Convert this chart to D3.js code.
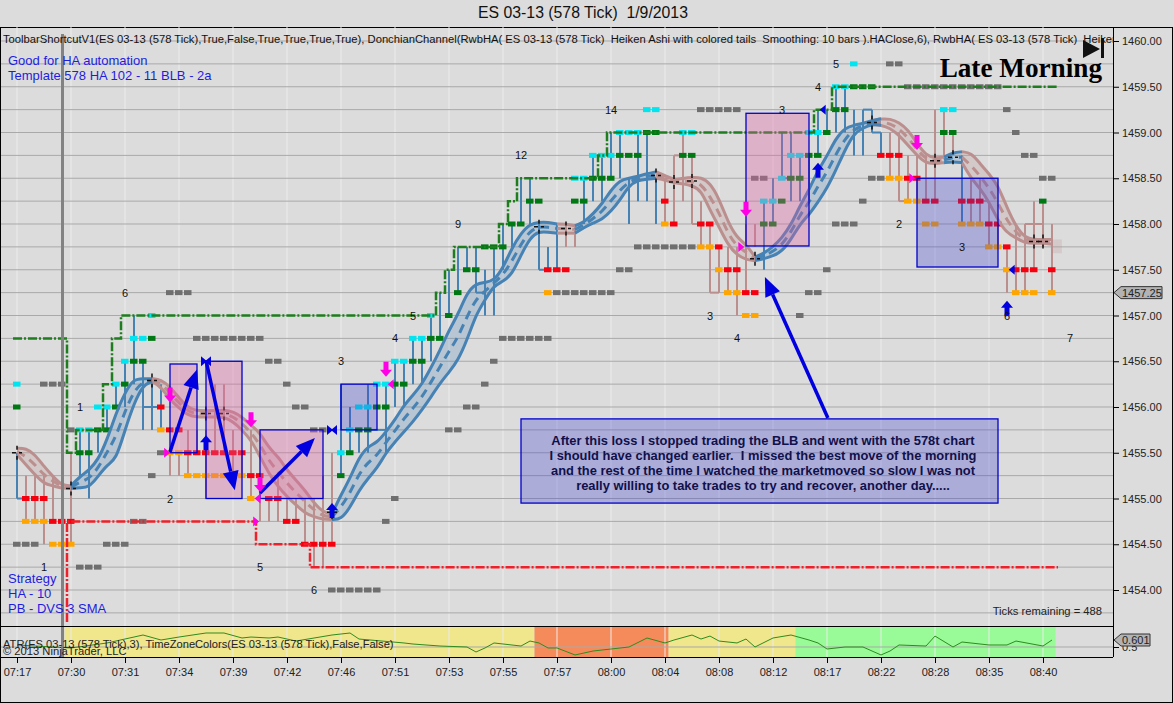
<!DOCTYPE html>
<html>
<head>
<meta charset="utf-8">
<title>ES 03-13 (578 Tick)</title>
<script src="https://cdn.jsdelivr.net/npm/d3@7"></script>
<style>
  html, body { margin: 0; padding: 0; background: #dcdcdc; overflow: hidden; }
  svg { display: block; }
  text { font-family: "Liberation Sans", Arial, sans-serif; }
  .axis path { display: none; }
  .axis line { stroke: #000; }
  .axis text { font-size: 11px; fill: #222; font-family: "Liberation Sans", Arial, sans-serif; }
</style>
</head>
<body>
<svg id="chart" width="1174" height="703"></svg>
<script>
var timeLabels = ["07:17","07:30","07:31","07:34","07:39","07:42","07:46","07:51","07:53","07:55","07:57","08:00","08:04","08:08","08:12","08:17","08:22","08:28","08:35","08:40"];
var priceLabels = [1460,1459.5,1459,1458.5,1458,1457.5,1457,1456.5,1456,1455.5,1455,1454.5,1454];

// bar ranges, one per bar
var barHigh = [1455.5,1455.25,1455.25,1455.25,1455.25,1455.25,1455.5,1455.75,1455.75,1455.75,
  1456,1456.25,1456.5,1457,1456.5,1456.25,1456.25,1455.5,1455.5,1455.75,
  1455.75,1455.75,1456.25,1456.25,1455.75,1455.5,1455.75,1455,1455,1455.25,
  1455,1455,1455,1455,1455.25,1455.5,1456.25,1456,1455.75,1456.25,
  1456,1456.25,1456.5,1456.5,1456.75,1456.75,1457,1457.25,1457.5,1457.75,
  1457.75,1457.75,1457.5,1457.75,1458,1458,1458.5,1458.5,1458,1457.75,
  1458,1458,1458,1458.5,1458.75,1458.75,1459,1459,1458.5,1459,
  1459,1458.5,1458.5,1458.75,1459,1458.75,1458.25,1458,1457.75,1457.75,
  1457.75,1458,1458,1458.25,1458.5,1459,1459,1458.75,1458.75,1459.25,
  1459.25,1459.5,1459.5,1459.25,1459.25,1459.25,1459,1459,1459,1458.75,
  1458.75,1458.75,1459.25,1459.25,1459,1458.75,1458.5,1458.5,1458.25,1458,
  1457.75,1458,1458,1458.25,1458.25,1458];
var barLow = [1455,1454.75,1454.75,1454.5,1454.75,1454.5,1454.5,1455.25,1455,1455.5,
  1455.75,1456,1456,1456.25,1455.75,1455.75,1455.75,1455.25,1455.25,1455.25,
  1455.5,1455,1455.5,1455.5,1455.25,1455.25,1455,1454.75,1454.75,1454.75,
  1454.75,1454.75,1454.5,1454.25,1454.25,1454.5,1455.25,1455.5,1455.5,1455.5,
  1456,1455.5,1456,1456,1456.25,1456.25,1456.5,1456.75,1457,1457.25,
  1457.5,1457.25,1457,1457,1457.5,1457.75,1458,1458,1457.5,1457.5,
  1457.5,1457.75,1457.75,1458,1458.25,1458.25,1458.5,1458.5,1458,1458.25,
  1458.25,1458,1458,1458,1458.25,1458,1457.75,1457.25,1457.25,1457.25,
  1457,1457.25,1457.75,1457.5,1458,1458.5,1458.25,1458.25,1458.25,1458.75,
  1459,1459,1459,1458.75,1458.75,1459,1458.75,1458.5,1458.25,1458.25,
  1458.25,1458.25,1458.25,1458.75,1458.75,1458,1458,1458,1457.75,1457.75,
  1457.25,1457.25,1457.25,1457.5,1457.75,1457.25];
var upBarRuns = [[0,0],[7,16],[36,60],[63,71],[83,96],[105,105]];
// small horizontal steps off a bar: from bar, price, to bar
var barFeet = [[0,1455,1],[14,1456,16],[58,1457.5,59],[77,1457.25,78],[75,1458,76],[73,1458.75,74],[72,1458.5,73],
  [98,1458.25,99],[94,1459.25,95],[95,1459,96],[112,1458,114],[107,1458.25,108],[39,1455.75,41],[85,1458.5,86],[51,1457.25,52]];

// moving average band, one value per bar
var bandHi = [1455.55,1455.55,1455.48,1455.35,1455.24,1455.14,1455.14,1455.24,1455.31,1455.42,
  1455.64,1455.93,1456.16,1456.31,1456.31,1456.31,1456.30,1456.22,1456.10,1455.99,
  1455.96,1455.96,1455.96,1455.97,1455.95,1455.89,1455.80,1455.72,1455.55,1455.46,
  1455.31,1455.20,1455.09,1454.95,1454.85,1454.83,1455.04,1455.22,1455.45,1455.57,
  1455.61,1455.73,1455.86,1456.02,1456.13,1456.25,1456.43,1456.62,1456.84,1457.01,
  1457.25,1457.35,1457.36,1457.38,1457.52,1457.74,1457.90,1458.00,1458.02,1458.02,
  1458.00,1458.00,1457.98,1458.02,1458.11,1458.22,1458.37,1458.48,1458.50,1458.52,
  1458.55,1458.57,1458.53,1458.48,1458.50,1458.51,1458.51,1458.45,1458.28,1458.02,
  1457.85,1457.78,1457.64,1457.68,1457.75,1457.85,1457.99,1458.20,1458.37,1458.59,
  1458.74,1458.94,1459.05,1459.08,1459.10,1459.13,1459.15,1459.15,1459.11,1459.03,
  1458.88,1458.75,1458.72,1458.73,1458.78,1458.79,1458.78,1458.66,1458.55,1458.42,
  1458.18,1457.97,1457.85,1457.83,1457.83,1457.83];
var bandLo = [1455.48,1455.37,1455.26,1455.16,1455.14,1455.11,1455.11,1455.12,1455.12,1455.24,
  1455.37,1455.42,1455.75,1456.04,1456.24,1456.28,1456.22,1456.08,1455.99,1455.91,
  1455.89,1455.89,1455.89,1455.89,1455.84,1455.75,1455.64,1455.46,1455.27,1455.13,
  1455.02,1454.93,1454.84,1454.80,1454.77,1454.77,1454.77,1454.90,1455.09,1455.22,
  1455.33,1455.50,1455.62,1455.73,1455.84,1455.97,1456.11,1456.26,1456.38,1456.51,
  1456.73,1457.01,1457.17,1457.33,1457.37,1457.45,1457.66,1457.85,1457.92,1457.91,
  1457.90,1457.90,1457.90,1457.96,1458.01,1458.05,1458.14,1458.26,1458.42,1458.48,
  1458.49,1458.50,1458.48,1458.45,1458.44,1458.42,1458.37,1458.15,1457.97,1457.77,
  1457.66,1457.61,1457.60,1457.62,1457.65,1457.70,1457.83,1458.00,1458.10,1458.24,
  1458.39,1458.59,1458.81,1458.99,1459.05,1459.09,1459.08,1459.05,1458.97,1458.86,
  1458.75,1458.66,1458.66,1458.67,1458.68,1458.67,1458.50,1458.39,1458.24,1458.04,
  1457.90,1457.85,1457.79,1457.79,1457.79,1457.78];
var bandUpRuns = [[6,15],[35,60],[62,71],[82,96],[103,105]];
var bandDownRuns = [[0,6],[15,35],[60,62],[71,82],[95,103],[105,115]];
// faint unfinished piece after the last bar: from bar, to bar, high, low
var bandTail = [115,116.1,1457.83,1457.68];

// marker runs: first bar, price, how many bars
var cyanMarks = [[0,1456.25,1],[7,1455.75,2],[9,1456,2],[11,1456.25,1],[12,1456.5,1],[13,1456.75,2],[15,1457,1],
  [36,1455.5,1],[37,1455.75,1],[38,1456,2],[40,1456.25,2],[42,1456.5,2],[44,1456.75,2],[46,1457,1],
  [62,1458.5,2],[64,1458.75,3],[67,1459,3],[70,1459.25,2],[74,1459,2],[83,1458.25,2],[85,1458.5,1],
  [86,1458.75,2],[88,1459,2],[91,1459.5,2],[93,1459.75,1],[103,1459.25,2]];
var greenMarks = [[0,1456,1],[7,1455.5,2],[9,1455.75,2],[11,1456,1],[12,1456.25,1],[13,1456.5,2],[15,1456.75,1],
  [36,1455.25,1],[37,1455.5,1],[38,1455.75,2],[40,1456,2],[42,1456.25,2],[44,1456.5,2],[46,1456.75,2],
  [48,1457,1],[49,1457.25,1],[50,1457.5,2],[52,1457.75,3],[55,1458,2],[57,1458.25,2],[62,1458.25,2],
  [64,1458.5,3],[67,1458.75,3],[70,1459,2],[74,1458.75,2],[83,1458,2],[85,1458.25,1],[86,1458.5,2],
  [88,1458.75,2],[90,1459,1],[91,1459.25,2],[93,1459.5,3],[103,1459,2],[114,1458.25,1]];
var redMarks = [[1,1455,3],[4,1454.75,3],[16,1456,1],[17,1455.75,2],[19,1455.5,7],[26,1455.25,2],[28,1455,2],
  [30,1454.75,2],[32,1454.5,4],[59,1457.5,3],[72,1458.25,1],[73,1458,1],[76,1458,2],[78,1457.75,1],
  [79,1457.5,2],[81,1457.25,2],[96,1458.75,3],[99,1458.5,2],[101,1458.25,2],[105,1458.25,3],[108,1458,2],
  [110,1457.75,1],[111,1457.5,3],[115,1457.5,1]];
var orangeMarks = [[1,1454.75,3],[4,1454.5,3],[16,1455.75,1],[17,1455.5,2],[19,1455.25,7],[26,1455,1],[59,1457.25,1],
  [72,1458,1],[76,1457.75,2],[78,1457.5,1],[79,1457.25,2],[81,1457,2],[97,1458.5,2],[99,1458.25,2],[101,1458,2],
  [105,1458,3],[108,1457.75,2],[110,1457.5,1],[111,1457.25,3],[115,1457.25,1]];
var grayMarks = [[0,1454.5,3],[3,1456.25,3],[6,1455.75,1],[7,1454.25,3],[10,1454.5,3],[13,1454.75,2],[15,1455.25,1],
  [16,1455.5,1],[17,1457.25,3],[20,1456.75,8],[28,1456.5,2],[30,1456.25,1],[31,1456,2],[33,1455.75,2],[35,1454,6],
  [41,1454.75,1],[42,1455,1],[48,1455.75,2],[50,1456,2],[52,1456.25,1],[53,1456.5,1],[54,1456.75,6],[60,1457.25,7],
  [67,1457.5,2],[69,1457.75,7],[76,1459.25,5],[82,1458.5,2],[87,1457,1],[88,1457.25,2],[90,1457.5,1],[91,1458,3],
  [94,1458.25,1],[95,1458.5,2],[97,1459.75,2],[99,1459.5,11],[110,1459.25,1],[111,1459,1],[112,1458.75,2],[114,1458.5,2]];

// Donchian channel: bar the level starts at, level
var upperChannel = [[0,1456.75],[6,1455.5],[7,1455.75],[10,1456.25],[11,1456.75],[12,1457],[47,1457.25],[48,1457.5],
  [49,1457.75],[54,1458],[55,1458.25],[56,1458.5],[65,1458.75],[66,1459],[89,1459.25],[91,1459.5]];
var lowerChannel = [[6,1453.65],[6,1454.75],[27,1454.5],[33,1454.25]];

// hand drawn boxes: first bar, last bar, top, bottom
var pinkBoxes = [[17,20,1456.47,1455.5],[21,25,1456.5,1455],[27,34,1455.75,1455],[81,88,1459.21,1457.76]];
var blueBoxes = [[36,40,1456.25,1455.75],[100,109,1458.5,1457.53]];
var noteBox = [56,109,1455.87,1454.95];
var noteLines = ["After this loss I stopped trading the BLB and went with the 578t chart",
  "I should have changed earlier.  I missed the best move of the morning",
  "and the rest of the time I watched the marketmoved so slow I was not",
  "really willing to take trades to try and recover, another day....."];
// hand drawn arrows: from bar, from price, to bar, to price
var bigArrows = [[17,1455.51,20,1456.41],[21,1456.51,24.2,1455.09],[27,1455.06,33.1,1455.66],[90.1,1455.88,83.1,1457.42]];

// signal marks
var downSignals = [[17,1456.05],[26,1455.78],[27,1455.07],[41,1456.33],[81,1458.08],[100,1458.81]];
var upSignals = [[21,1455.69],[35,1454.95],[89,1458.67],[110,1457.16]];
var pinkRight = [[16.9,1455.5],[26.8,1454.75],[80.7,1457.75],[99.7,1458.5]];
var pinkLeft = [[26.5,1455],[41.3,1456.25]];
var blueBowties = [[21,1456.5],[35,1455.75]];
var blueLeft = [[89.3,1459.25],[110.3,1457.5]];
var pivots = [[0,1455.5],[6,1455.11],[15,1456.29],[21,1455.93],[23,1455.93],[35,1454.85],[58,1457.97],[61,1457.95],
  [71,1458.53],[73,1458.46],[75,1458.47],[82,1457.62],[95,1459.11],[102,1458.69],[104,1458.73],[113,1457.81],[114,1457.81]];

// swing counters: bar, price, label
var counters = [[12,1457.25,"6"],[7,1456,"1"],[17,1455,"2"],[3,1454.25,"1"],[27,1454.25,"5"],[33,1454,"6"],[36,1456.5,"3"],
  [42,1456.75,"4"],[44,1457,"5"],[49,1458,"9"],[56,1458.75,"12"],[66,1459.25,"14"],[85,1459.25,"3"],[89,1459.5,"4"],
  [91,1459.75,"5"],[98,1458,"2"],[105,1457.75,"3"],[77,1457,"3"],[80,1456.75,"4"],[110,1457,"6"],[117,1456.75,"7"]];

// ATR pane
var atrBars = [0,6,10,13,14,16,18,21,23,25,26,28,29,31,35,37,38,43,44,47,50,51,52,53,56,57,58,59,60,62,64,68,70,72,73,75,76,77,78,80,81,82,84,86,88,89,90,92,94,96,97,98,101,102,104,105,108,110,111,114,115];
var atrValues = [0.529,0.486,0.558,0.644,0.673,0.601,0.644,0.702,0.702,0.630,0.644,0.630,0.644,0.586,0.673,0.702,0.615,0.558,0.543,0.514,0.5,0.428,0.486,0.558,0.514,0.586,0.558,0.486,0.486,0.385,0.442,0.5,0.63,0.558,0.601,0.673,0.615,0.658,0.586,0.558,0.615,0.5,0.63,0.673,0.601,0.558,0.471,0.5,0.5,0.385,0.442,0.529,0.514,0.658,0.5,0.572,0.529,0.529,0.586,0.514,0.601];
var zoneEdges = [5.3,57.5,72.4,86.5,115.4];
var zoneColors = ["#f0e68c","#f58b5a","#f0e68c","#98fb98"];

var lastPrice = 1457.25;
var lastAtr = 0.601;

var width = 1174, height = 703;
var paneLeft = 1, paneRight = 1113, paneTop = 27, priceBottom = 626, atrBottom = 657;

var xScale = d3.scaleLinear().domain([0, 114]).range([17, 1043]);
var yScale = d3.scaleLinear().domain([1454, 1460]).range([590, 41]);
var atrScale = d3.scaleLinear().domain([0.5, 0.601]).range([647, 640]);

var svg = d3.select("#chart");

svg.append("defs").append("clipPath").attr("id", "paneClip")
  .append("rect").attr("x", paneLeft).attr("y", paneTop).attr("width", paneRight - paneLeft).attr("height", atrBottom - paneTop);

//frame
svg.append("rect").attr("x", 0.5).attr("y", 27.5).attr("width", 1172).attr("height", 675)
  .attr("fill", "#dcdcdc").attr("stroke", "#000");

svg.append("text").attr("x", 583).attr("y", 18).attr("text-anchor", "middle")
  .attr("font-size", "15.8px").attr("fill", "#111").text("ES 03-13 (578 Tick)  1/9/2013").style("white-space", "pre");

//ATR zones
svg.selectAll(".zone").data(zoneColors).enter().append("rect")
  .attr("class", "zone")
  .attr("x", function(d, i) { return xScale(zoneEdges[i]); })
  .attr("width", function(d, i) { return xScale(zoneEdges[i + 1]) - xScale(zoneEdges[i]); })
  .attr("y", priceBottom).attr("height", atrBottom - priceBottom)
  .attr("fill", function(d) { return d; });

//time gridlines
var tickBars = timeLabels.map(function(d, i) { return i * 6; });
svg.selectAll(".vgrid").data(tickBars).enter().append("line")
  .attr("class", "vgrid")
  .attr("x1", xScale).attr("x2", xScale)
  .attr("y1", paneTop).attr("y2", atrBottom)
  .attr("stroke", "#ececec").attr("stroke-width", 1);

//price gridlines
svg.selectAll(".hgrid").data(d3.range(1453.75, 1460.01, 0.25)).enter().append("line")
  .attr("class", "hgrid")
  .attr("x1", paneLeft).attr("x2", paneRight)
  .attr("y1", yScale).attr("y2", yScale)
  .attr("stroke", "#a9a9a9").attr("stroke-width", 1);

svg.append("line").attr("x1", paneLeft).attr("x2", paneRight)
  .attr("y1", atrScale(0.5)).attr("y2", atrScale(0.5)).attr("stroke", "#a9a9a9");

var chart = svg.append("g").attr("clip-path", "url(#paneClip)");

function isUpBar(i) {
  return upBarRuns.some(function(r) { return i >= r[0] && i <= r[1]; });
}
var blueLine = "#4682b4", brownLine = "#bc8f8f";

//bars
chart.selectAll(".bar").data(barHigh).enter().append("line")
  .attr("class", "bar")
  .attr("x1", function(d, i) { return xScale(i); })
  .attr("x2", function(d, i) { return xScale(i); })
  .attr("y1", function(d) { return yScale(d); })
  .attr("y2", function(d, i) { return yScale(barLow[i]); })
  .attr("stroke", function(d, i) { return isUpBar(i) ? blueLine : brownLine; })
  .attr("stroke-width", 2);

chart.selectAll(".foot").data(barFeet).enter().append("line")
  .attr("class", "foot")
  .attr("x1", function(d) { return xScale(d[0]); })
  .attr("x2", function(d) { return xScale(d[2]); })
  .attr("y1", function(d) { return yScale(d[1]); })
  .attr("y2", function(d) { return yScale(d[1]); })
  .attr("stroke", function(d) { return isUpBar(d[0]) ? blueLine : brownLine; })
  .attr("stroke-width", 2);

//square markers
function drawMarks(runs, color) {
  var cells = [];
  runs.forEach(function(r) {
    d3.range(r[2]).forEach(function(k) { cells.push([r[0] + k, r[1]]); });
  });
  chart.append("g").selectAll("rect").data(cells).enter().append("rect")
    .attr("x", function(d) { return xScale(d[0]) - 4; })
    .attr("y", function(d) { return yScale(d[1]) - 2.5; })
    .attr("width", 7.5).attr("height", 5)
    .attr("fill", color);
}
drawMarks(grayMarks, "#6f6f6f");
drawMarks(orangeMarks, "#ffa500");
drawMarks(redMarks, "#f5000f");
drawMarks(greenMarks, "#007814");
drawMarks(cyanMarks, "#00e5f0");

//moving average band
function drawBand(runs, color) {
  runs.forEach(function(r) {
    var idx = d3.range(r[0], r[1] + 1);
    var area = d3.area().curve(d3.curveBasis)
      .x(function(i) { return xScale(i); })
      .y0(function(i) { return yScale(bandLo[i]); })
      .y1(function(i) { return yScale(bandHi[i]); });
    chart.append("path").attr("d", area(idx)).attr("fill", color).attr("fill-opacity", 0.25);
    [bandHi, bandLo].forEach(function(arr) {
      var edge = d3.line().curve(d3.curveBasis)
        .x(function(i) { return xScale(i); })
        .y(function(i) { return yScale(arr[i]); });
      chart.append("path").attr("d", edge(idx)).attr("fill", "none")
        .attr("stroke", color).attr("stroke-width", 3);
    });
    var mid = d3.line().curve(d3.curveBasis)
      .x(function(i) { return xScale(i); })
      .y(function(i) { return yScale((bandHi[i] + bandLo[i]) / 2); });
    chart.append("path").attr("d", mid(idx)).attr("fill", "none")
      .attr("stroke", color).attr("stroke-width", 3).attr("stroke-dasharray", "9,6");
  });
}
drawBand(bandDownRuns, brownLine);
drawBand(bandUpRuns, blueLine);

chart.append("rect")
  .attr("x", xScale(bandTail[0])).attr("width", xScale(bandTail[1]) - xScale(bandTail[0]))
  .attr("y", yScale(bandTail[2])).attr("height", yScale(bandTail[3]) - yScale(bandTail[2]))
  .attr("fill", brownLine).attr("fill-opacity", 0.22);

//pivots
chart.append("g").selectAll("path").data(pivots).enter().append("path")
  .attr("d", function(d) {
    var x = xScale(d[0]), y = yScale(d[1]);
    return "M" + x + "," + (y - 7) + "V" + (y - 3) + "M" + x + "," + (y + 3) + "V" + (y + 7)
      + "M" + (x - 5) + "," + y + "H" + (x - 1) + "M" + (x + 2) + "," + y + "H" + (x + 5);
  })
  .attr("stroke", "#111").attr("stroke-width", 1.5).attr("fill", "none");

//Donchian channel
function drawChannel(runs, color) {
  var pts = runs.map(function(r) { return [xScale(r[0]) - 4, yScale(r[1])]; });
  pts.push([xScale(115) + 6, yScale(runs[runs.length - 1][1])]);
  chart.append("path").attr("d", d3.line().curve(d3.curveStepAfter)(pts))
    .attr("fill", "none").attr("stroke", color).attr("stroke-width", 2.5)
    .attr("stroke-dasharray", "9,2,2,2");
}
drawChannel(upperChannel, "#1e7d1e");
drawChannel(lowerChannel, "#f0202a");

//boxes
function drawBoxes(boxes, fill, opacity) {
  chart.append("g").selectAll("rect").data(boxes).enter().append("rect")
    .attr("x", function(d) { return xScale(d[0]); })
    .attr("width", function(d) { return xScale(d[1]) - xScale(d[0]); })
    .attr("y", function(d) { return yScale(d[2]); })
    .attr("height", function(d) { return yScale(d[3]) - yScale(d[2]); })
    .attr("fill", fill).attr("fill-opacity", opacity)
    .attr("stroke", "#0000cd").attr("stroke-width", 1.3);
}
drawBoxes(pinkBoxes, "#e060a0", 0.35);
drawBoxes(blueBoxes, "#4040d0", 0.3);
drawBoxes([noteBox], "#4040d0", 0.3);

noteLines.forEach(function(line, i) {
  svg.append("text")
    .attr("x", 763).attr("y", 445 + i * 15).attr("text-anchor", "middle")
    .attr("font-size", "12.9px").attr("font-weight", "bold").attr("fill", "#10104a")
    .style("white-space", "pre").text(line);
});

//hand drawn arrows
bigArrows.forEach(function(a) {
  var x1 = xScale(a[0]), y1 = yScale(a[1]), x2 = xScale(a[2]), y2 = yScale(a[3]);
  var ang = Math.atan2(y2 - y1, x2 - x1), len = 19, wide = 8;
  var bx = x2 - len * Math.cos(ang), by = y2 - len * Math.sin(ang);
  chart.append("line").attr("x1", x1).attr("y1", y1).attr("x2", bx).attr("y2", by)
    .attr("stroke", "#0000e0").attr("stroke-width", 3.5);
  chart.append("path")
    .attr("d", "M" + x2 + "," + y2 + "L" + (bx - wide * Math.sin(ang)) + "," + (by + wide * Math.cos(ang))
      + "L" + (bx + wide * Math.sin(ang)) + "," + (by - wide * Math.cos(ang)) + "Z")
    .attr("fill", "#0000e0");
});

//signal arrows, tip at the price
function drawSignals(list, color, dir) {
  chart.append("g").selectAll("path").data(list).enter().append("path")
    .attr("transform", function(d) { return "translate(" + xScale(d[0]) + "," + yScale(d[1]) + ") scale(1," + dir + ")"; })
    .attr("d", "M0,0L-6,-7H-2.5V-15H2.5V-7H6Z")
    .attr("fill", color);
}
drawSignals(downSignals, "#ff00e6", 1);
drawSignals(upSignals, "#0000e0", -1);

function drawTriangles(list, color, dir) {
  chart.append("g").selectAll("path").data(list).enter().append("path")
    .attr("transform", function(d) { return "translate(" + xScale(d[0]) + "," + yScale(d[1]) + ") scale(" + dir + ",1)"; })
    .attr("d", "M-5,-5L1,0L-5,5Z")
    .attr("fill", color);
}
drawTriangles(pinkRight, "#ff00e6", 1);
drawTriangles(pinkLeft, "#ff00e6", -1);
drawTriangles(blueLeft, "#0000e0", -1);
drawTriangles(blueBowties, "#0000e0", 1);
drawTriangles(blueBowties, "#0000e0", -1);

//counters
svg.selectAll(".counter").data(counters).enter().append("text")
  .attr("class", "counter")
  .attr("x", function(d) { return xScale(d[0]); })
  .attr("y", function(d) { return yScale(d[1]) + 4; })
  .attr("text-anchor", "middle").attr("font-size", "11px").attr("fill", "#111")
  .text(function(d) { return d[2]; });

//ATR line
var atrLine = d3.line()
  .x(function(d, i) { return xScale(atrBars[i]); })
  .y(function(d) { return atrScale(d); });
svg.append("path").attr("d", atrLine(atrValues)).attr("fill", "none")
  .attr("stroke", "#2e8b1e").attr("stroke-width", 1);

//session line
svg.append("rect").attr("x", 61).attr("y", 34).attr("width", 3).attr("height", atrBottom - 34)
  .attr("fill", "#828282");

//pane lines
[priceBottom, atrBottom].forEach(function(y) {
  svg.append("line").attr("x1", 0).attr("x2", paneRight).attr("y1", y + 0.5).attr("y2", y + 0.5).attr("stroke", "#000");
});
svg.append("line").attr("x1", paneRight + 0.5).attr("x2", paneRight + 0.5).attr("y1", paneTop).attr("y2", atrBottom).attr("stroke", "#000");

//axes
var xAxis = d3.axisBottom(xScale).tickValues(tickBars).tickSize(6).tickPadding(5)
  .tickFormat(function(d) { return timeLabels[d / 6]; });
svg.append("g").attr("class", "axis").attr("transform", "translate(0," + atrBottom + ")").call(xAxis);

var yAxis = d3.axisRight(yScale).tickValues(priceLabels).tickSize(6).tickPadding(3).tickFormat(d3.format(".2f"));
svg.append("g").attr("class", "axis").attr("transform", "translate(" + paneRight + ",0)").call(yAxis);

var atrAxis = d3.axisRight(atrScale).tickValues([0.5]).tickSize(6).tickPadding(3).tickFormat(d3.format(".1f"));
svg.append("g").attr("class", "axis").attr("transform", "translate(" + paneRight + ",0)").call(atrAxis);

//value callouts
function callout(y, w, label) {
  var x = paneRight + 1;
  svg.append("path")
    .attr("d", "M" + x + "," + y + "L" + (x + 7) + "," + (y - 6) + "H" + (x + w) + "V" + (y + 6) + "H" + (x + 7) + "Z")
    .attr("fill", "#b3b3b3").attr("stroke", "#333");
  svg.append("text").attr("x", x + 8).attr("y", y + 4).attr("font-size", "11px").attr("fill", "#222").text(label);
}
callout(yScale(lastPrice), 48, d3.format(".2f")(lastPrice));
callout(atrScale(lastAtr), 36, d3.format(".3f")(lastAtr));

//labels
var labels = svg.append("g").attr("clip-path", "url(#paneClip)");
labels.append("text").attr("x", 3).attr("y", 43).attr("font-size", "11.22px").attr("fill", "#111").style("white-space", "pre")
  .text("ToolbarShortcutV1(ES 03-13 (578 Tick),True,False,True,True,True,True), DonchianChannel(RwbHA( ES 03-13 (578 Tick)  Heiken Ashi with colored tails  Smoothing: 10 bars ).HAClose,6), RwbHA( ES 03-13 (578 Tick)  Heiken Ashi with colored tails");

[["Good for HA automation", 65], ["Template 578 HA 102 - 11 BLB - 2a", 80], ["Strategy", 583], ["HA - 10", 598], ["PB - DVS 3 SMA", 613]].forEach(function(d) {
  labels.append("text").attr("x", 8).attr("y", d[1]).attr("font-size", "13px").attr("fill", "#1e1ee0").text(d[0]);
});

labels.append("text").attr("x", 3).attr("y", 648).attr("font-size", "11.13px").attr("fill", "#222")
  .text("ATR(ES 03-13 (578 Tick),3), TimeZoneColors(ES 03-13 (578 Tick),False,False)");
labels.append("text").attr("x", 3).attr("y", 655).attr("font-size", "11.2px").attr("fill", "#222")
  .text("\u00a9 2013 NinjaTrader, LLC");
labels.append("text").attr("x", 1102).attr("y", 615).attr("text-anchor", "end").attr("font-size", "11.2px").attr("fill", "#222")
  .text("Ticks remaining = 488");

labels.append("text").attr("x", 1102).attr("y", 77).attr("text-anchor", "end")
  .attr("font-size", "27.2px").attr("font-weight", "bold").attr("fill", "#000")
  .style("font-family", "'Liberation Serif', serif").text("Late Morning");

//skip-to-end icon
labels.append("path").attr("d", "M1083,40L1100,49L1083,58Z").attr("fill", "#111");
labels.append("rect").attr("x", 1101).attr("y", 38).attr("width", 3).attr("height", 20).attr("fill", "#111");
</script>
</body>
</html>
